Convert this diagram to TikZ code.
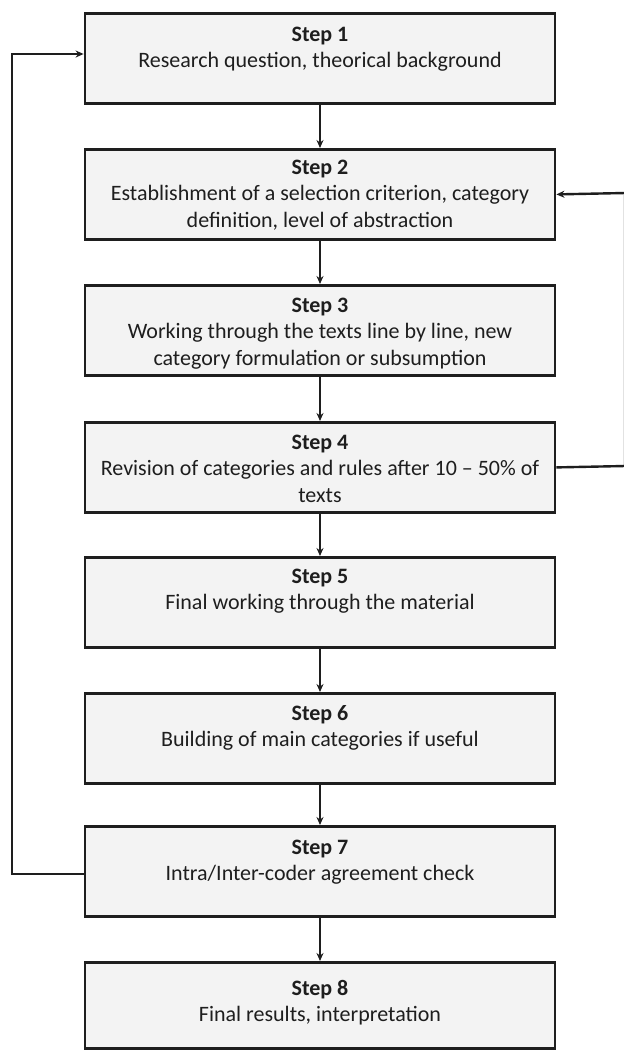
\documentclass[tikz,border=0pt]{standalone}
\usepackage{fontspec}
\setmainfont{Carlito}
\usetikzlibrary{arrows.meta}
\definecolor{boxfill}{HTML}{F3F3F3}
\definecolor{boxline}{HTML}{1E1E1E}
\definecolor{txt}{HTML}{1E1E1E}
\begin{document}
\begin{tikzpicture}[x=1pt,y=-1pt,
  stepbox/.style={draw=boxline,line width=2.8pt,fill=boxfill,minimum width=470pt,minimum height=90pt,inner sep=0pt,anchor=north},
  steptext/.style={anchor=north,align=center,text=txt,font=\fontsize{22}{26.3}\selectfont,inner sep=0pt},
  conn/.style={draw=boxline,line width=2.4pt,-{Stealth[length=8pt,width=7pt]}}]
\useasboundingbox (0,0) rectangle (624,1050);
\fill[white] (0,0) rectangle (624,1050);
\node[stepbox] (s1) at (320,12) {};
\node[stepbox] (s2) at (320,148) {};
\node[stepbox] (s3) at (320,284) {};
\node[stepbox] (s4) at (320,421) {};
\node[stepbox] (s5) at (320,556) {};
\node[stepbox] (s6) at (320,692) {};
\node[stepbox] (s7) at (320,825) {};
\node[stepbox,minimum height=86pt] (s8) at (320,961) {};
\node[steptext] (t1) at ([yshift=-15pt]s1.north) {\textbf{Step 1}\\Research question, theorical background};
\node[steptext] (t2) at ([yshift=-12pt]s2.north) {\textbf{Step 2}\\Establishment of a selection criterion, category\\definition, level of abstraction};
\node[steptext] (t3) at ([yshift=-14pt]s3.north) {\textbf{Step 3}\\Working through the texts line by line, new\\category formulation or subsumption};
\node[steptext] (t4) at ([yshift=-14pt]s4.north) {\textbf{Step 4}\\Revision of categories and rules after 10 -- 50\% of\\texts};
\node[steptext] (t5) at ([yshift=-13pt]s5.north) {\textbf{Step 5}\\Final working through the material};
\node[steptext] (t6) at ([yshift=-13pt]s6.north) {\textbf{Step 6}\\Building of main categories if useful};
\node[steptext] (t7) at ([yshift=-15pt]s7.north) {\textbf{Step 7}\\Intra/Inter-coder agreement check};
\node[steptext] (t8) at ([yshift=-19pt]s8.north) {\textbf{Step 8}\\Final results, interpretation};
\draw[conn] (s1.south) -- (s2.north);
\draw[conn] (s2.south) -- (s3.north);
\draw[conn] (s3.south) -- (s4.north);
\draw[conn] (s4.south) -- (s5.north);
\draw[conn] (s5.south) -- (s6.north);
\draw[conn] (s6.south) -- (s7.north);
\draw[conn] (s7.south) -- (s8.north);
\coordinate (r4) at (625,466);
\coordinate (r2) at (625,193);
\draw[conn] (s4.east) -- (r4) -- (r2) -- (s2.east);
\coordinate (l7) at (12,874);
\coordinate (l1) at (12,54);
\draw[conn] (s7.west|-l7) -- (l7) -- (l1) -- (s1.west|-l1);
\end{tikzpicture}
\end{document}
